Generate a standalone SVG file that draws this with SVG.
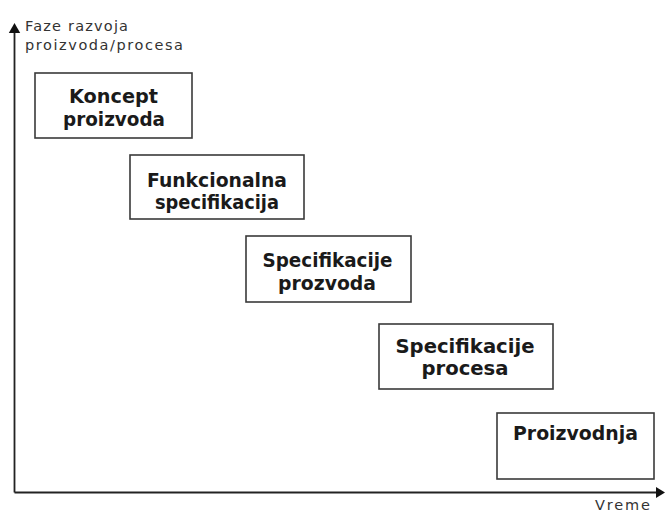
<svg xmlns="http://www.w3.org/2000/svg" width="665" height="511" viewBox="0 0 665 511">
<style>
.box{fill:#fff;stroke:#3a3a3a;stroke-width:1.6}
.lbl{font-family:"DejaVu Sans",Verdana,sans-serif;font-weight:bold;font-size:19.5px;fill:#1a1a1a;text-anchor:middle}
.ax{font-family:"DejaVu Sans",Verdana,sans-serif;font-size:14.5px;fill:#333}
.axis{stroke:#222;stroke-width:1.8;fill:none}
</style>
<rect width="665" height="511" fill="#fff"/>
<g id="connectors">
<line class="axis" x1="14.5" y1="492.5" x2="14.5" y2="31"/>
<line class="axis" x1="14.5" y1="492.5" x2="658" y2="492.5"/>
<polygon points="14.5,23 8.8,33 20.2,33" fill="#111"/>
<polygon points="665,492.5 656,487 656,498" fill="#111"/>
</g>
<g id="axis-labels">
<text class="ax" x="25" y="30.5" textLength="103" lengthAdjust="spacing">Faze razvoja</text>
<text class="ax" x="25" y="50" textLength="158" lengthAdjust="spacing">proizvoda/procesa</text>
<text class="ax" x="595" y="509.5" textLength="55" lengthAdjust="spacing">Vreme</text>
</g>
<g id="n1">
<rect class="box" x="35" y="73" width="157" height="65"/>
<text class="lbl" x="113.5" y="103" textLength="89" lengthAdjust="spacingAndGlyphs">Koncept</text>
<text class="lbl" x="114" y="125.5" textLength="102" lengthAdjust="spacingAndGlyphs">proizvoda</text>
</g>
<g id="n2">
<rect class="box" x="130" y="155" width="174" height="64"/>
<text class="lbl" x="217" y="187" textLength="140" lengthAdjust="spacingAndGlyphs">Funkcionalna</text>
<text class="lbl" x="217" y="209" textLength="124" lengthAdjust="spacingAndGlyphs">specifikacija</text>
</g>
<g id="n3">
<rect class="box" x="246" y="236" width="165" height="66"/>
<text class="lbl" x="327.5" y="267" textLength="130" lengthAdjust="spacingAndGlyphs">Specifikacije</text>
<text class="lbl" x="327" y="290" textLength="98" lengthAdjust="spacingAndGlyphs">prozvoda</text>
</g>
<g id="n4">
<rect class="box" x="379" y="324" width="174" height="65"/>
<text class="lbl" x="465" y="353" textLength="139" lengthAdjust="spacingAndGlyphs">Specifikacije</text>
<text class="lbl" x="465" y="375" textLength="87" lengthAdjust="spacingAndGlyphs">procesa</text>
</g>
<g id="n5">
<rect class="box" x="497" y="413" width="157" height="66"/>
<text class="lbl" x="575.5" y="440" textLength="125" lengthAdjust="spacingAndGlyphs">Proizvodnja</text>
</g>
</svg>
